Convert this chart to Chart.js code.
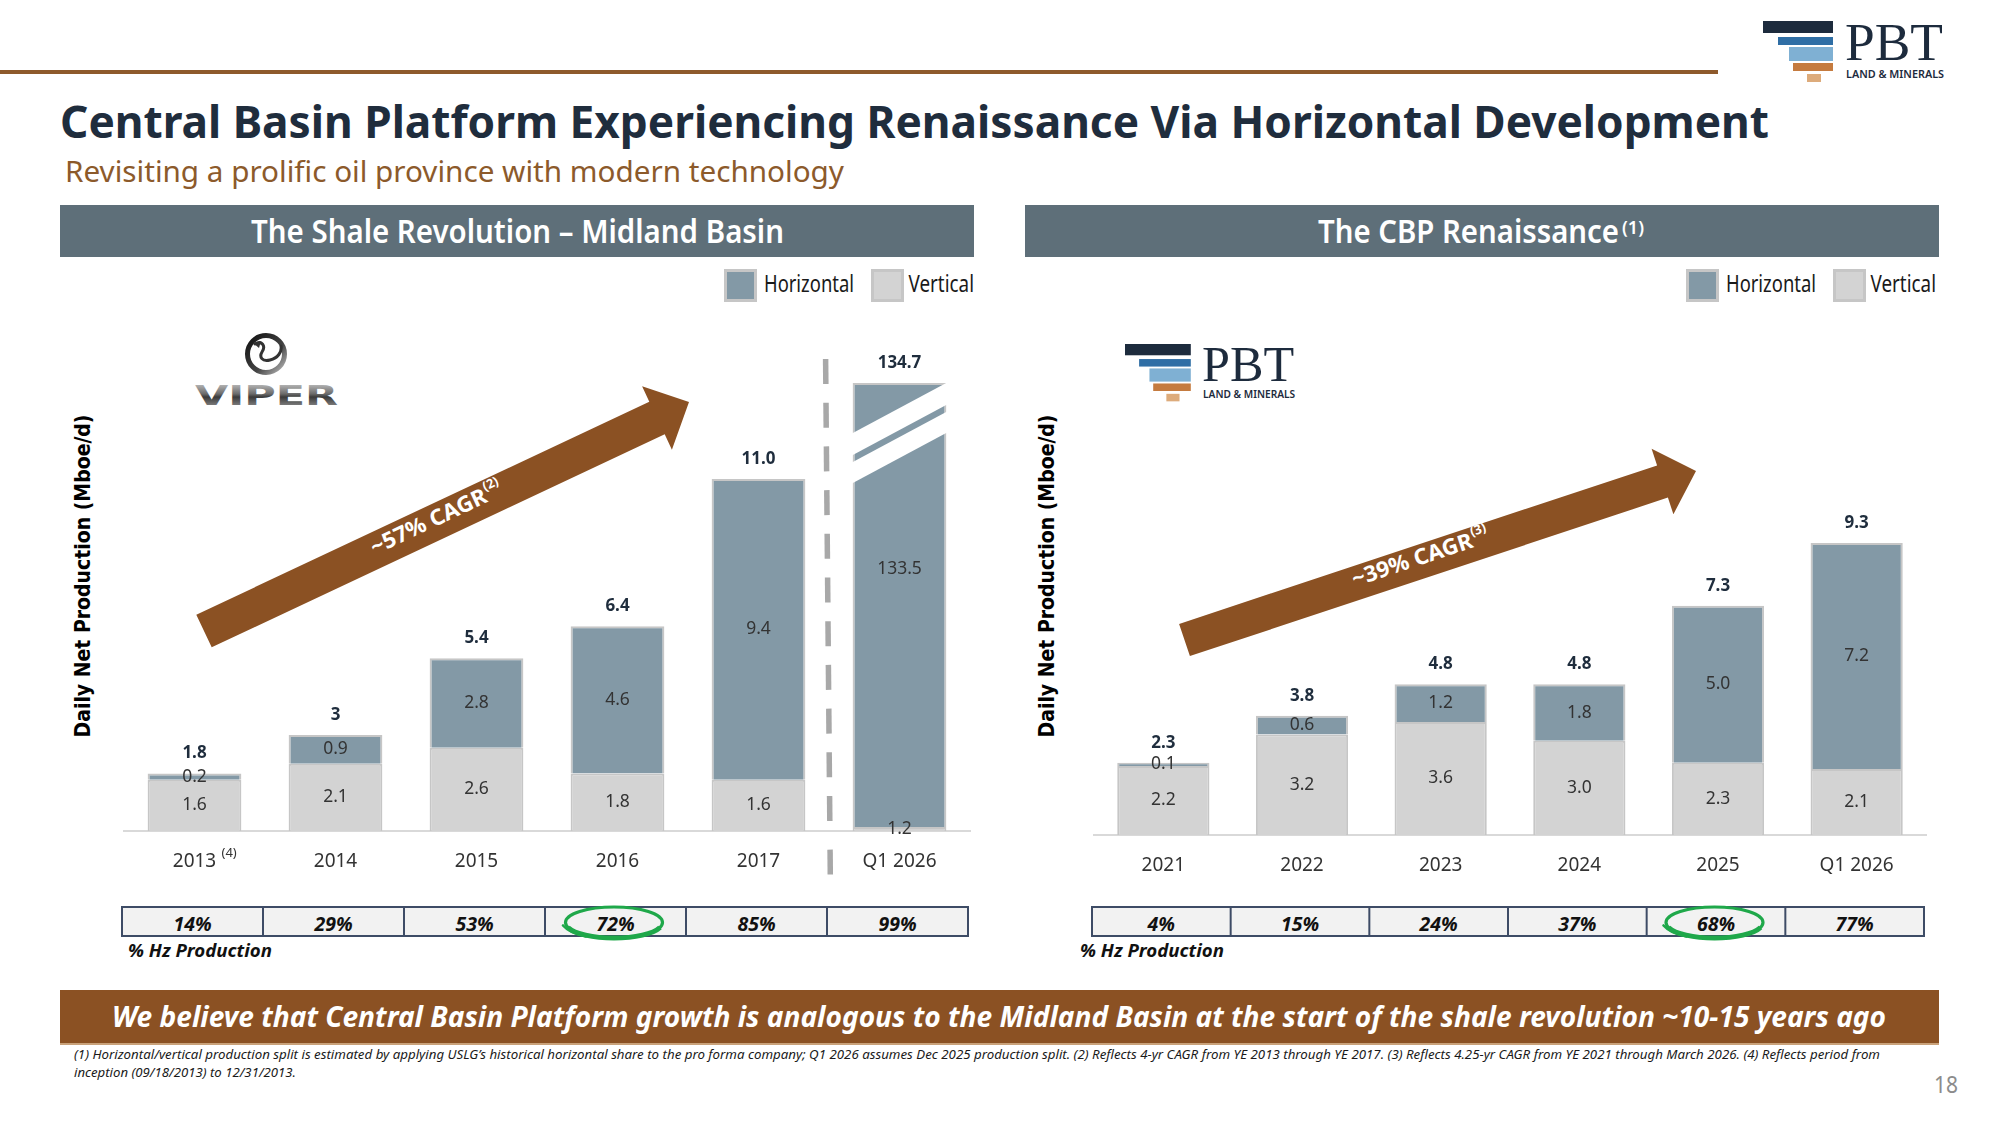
<!DOCTYPE html>
<html><head><meta charset="utf-8"><title>Central Basin Platform</title>
<script src="https://cdn.jsdelivr.net/npm/chart.js@4.4.1/dist/chart.umd.min.js"></script>
<style>
html,body{margin:0;padding:0;background:#fff;width:2000px;height:1125px;overflow:hidden}
#page{position:relative;width:2000px;height:1125px;background:#fff}
#deco{position:absolute;left:0;top:0}
.cw{position:absolute;width:920px;height:600px}
</style></head><body>
<div id="page">
<svg id="deco" width="2000" height="1125" viewBox="0 0 2000 1125" xmlns="http://www.w3.org/2000/svg">
<defs>
<linearGradient id="chrome" x1="0" y1="0" x2="0" y2="1">
<stop offset="0" stop-color="#d8d8d8"/><stop offset="0.45" stop-color="#6a6a6a"/><stop offset="0.55" stop-color="#3a3a3a"/><stop offset="1" stop-color="#a8a8a8"/>
</linearGradient>
<linearGradient id="ring" x1="0" y1="0" x2="1" y2="1">
<stop offset="0" stop-color="#111"/><stop offset="0.6" stop-color="#444"/><stop offset="1" stop-color="#bbb"/>
</linearGradient>
</defs>
</svg>
<div class="cw" style="left:60px;top:300px"><canvas id="chartMidland"></canvas></div>
<div class="cw" style="left:1025px;top:300px"><canvas id="chartCBP"></canvas></div>
</div>
<script>
// ---------------- data ----------------
const midlandYears = ['2013', '2014', '2015', '2016', '2017', 'Q1 2026'];
const midlandVertical = [1.6, 2.1, 2.6, 1.8, 1.6, 1.2];
const midlandHorizontal = [0.2, 0.9, 2.8, 4.6, 9.4, 133.5];
const midlandTotals = ['1.8', '3', '5.4', '6.4', '11.0', '134.7'];
const midlandHzShare = ['14%', '29%', '53%', '72%', '85%', '99%'];
const midlandHighlight = 3;
const midlandBreakIndex = 5;
const midlandBreakCap = 14.0;

const cbpYears = ['2021', '2022', '2023', '2024', '2025', 'Q1 2026'];
const cbpVertical = [2.2, 3.2, 3.6, 3.0, 2.3, 2.1];
const cbpHorizontal = [0.1, 0.6, 1.2, 1.8, 5.0, 7.2];
const cbpTotals = ['2.3', '3.8', '4.8', '4.8', '7.3', '9.3'];
const cbpHzShare = ['4%', '15%', '24%', '37%', '68%', '77%'];
const cbpHighlight = 4;

// ---------------- styles ----------------
const HZ = '#8399A6', VT = '#D3D3D3', BORDER = '#C6C6C6';
const BROWN = '#8B5123', NAVY = '#1F2D3D', SLATE = '#5E6F79', GREEN = '#1FA84A';

// ---------------- svg helpers ----------------
const NS = 'http://www.w3.org/2000/svg';
const svg = document.getElementById('deco');
function el(tag, attrs, parent, text) {
  const e = document.createElementNS(NS, tag);
  for (const k in attrs) e.setAttribute(k, attrs[k]);
  if (text != null) e.textContent = text;
  (parent || svg).appendChild(e);
  return e;
}
function txt(x, y, s, size, o) {
  o = o || {};
  const a = { x: x, y: y, 'font-family': o.family || 'Noto Sans', 'font-size': size,
    'font-weight': o.weight || 'normal', 'font-style': o.style || 'normal',
    fill: o.fill || '#000', 'text-anchor': o.anchor || 'start' };
  if (o.len) { a.textLength = o.len; a.lengthAdjust = 'spacingAndGlyphs'; }
  if (o.transform) a.transform = o.transform;
  return el('text', a, o.parent, s);
}
function pbtLogo(x, y, s) {
  const g = el('g', { transform: `translate(${x},${y}) scale(${s})` });
  [[0, 0, 70, 12, '#1D2B3D'], [15, 16, 55, 8, '#2F6EA5'], [26, 26, 44, 14, '#7FB0D3'],
   [30, 42, 40, 8, '#C57B3F'], [44, 53, 14, 8, '#DDAB7B']].forEach(b =>
    el('rect', { x: b[0], y: b[1], width: b[2], height: b[3], fill: b[4] }, g));
  txt(82, 39, 'PBT', 53, { family: 'Liberation Serif', fill: '#1D2B3D', len: 98, parent: g });
  txt(83, 57, 'LAND & MINERALS', 11.5, { fill: '#1D2B3D', len: 98, parent: g, weight: 600 });
}
function arrow(T, Bc, P, hw, hhw, label, sup, at, lift) {
  const dx = Bc[0] - T[0], dy = Bc[1] - T[1], L = Math.hypot(dx, dy);
  const n = [-dy / L, dx / L];
  const p = (q, k) => (q[0] + n[0] * k).toFixed(1) + ',' + (q[1] + n[1] * k).toFixed(1);
  el('polygon', { points: [p(T, -hw), p(Bc, -hw), p(Bc, -hhw), P.join(','), p(Bc, hhw), p(Bc, hw), p(T, hw)].join(' '), fill: BROWN });
  const ang = Math.atan2(dy, dx) * 180 / Math.PI;
  const cx = T[0] + dx * at, cy = T[1] + dy * at;
  const g = el('g', { transform: `translate(${cx.toFixed(1)},${cy.toFixed(1)}) rotate(${ang.toFixed(2)})` });
  txt(-8, 8 - lift, label, 22, { weight: 'bold', fill: '#fff', anchor: 'middle', len: 126, parent: g });
  txt(56, -3 - lift, sup, 13, { weight: 'bold', fill: '#fff', len: 16, parent: g });
}

// ---------------- static page elements ----------------
el('rect', { x: 0, y: 70, width: 1718, height: 4, fill: '#8E5A2C' });
pbtLogo(1763, 21, 1);
txt(60, 137.5, 'Central Basin Platform Experiencing Renaissance Via Horizontal Development', 44,
  { weight: 'bold', fill: NAVY, len: 1709 });
txt(65, 181.5, 'Revisiting a prolific oil province with modern technology', 29.5,
  { fill: '#8C5A2B', len: 779 });

el('rect', { x: 60, y: 205, width: 914, height: 52, fill: SLATE });
el('rect', { x: 1025, y: 205, width: 914, height: 52, fill: SLATE });
txt(517.5, 242.7, 'The Shale Revolution \u2013 Midland Basin', 32, { weight: 600, fill: '#fff', anchor: 'middle', len: 533 });
txt(1318, 242.7, 'The CBP Renaissance', 32, { weight: 600, fill: '#fff', len: 301 });
txt(1622, 234, '(1)', 17, { weight: 600, fill: '#fff', len: 22 });

function legend(dx) {
  el('rect', { x: 725.5 + dx, y: 270.5, width: 30, height: 30, fill: HZ, stroke: BORDER, 'stroke-width': 3 });
  txt(764 + dx, 292.3, 'Horizontal', 24, { fill: '#1a1a1a', len: 90 });
  el('rect', { x: 872.5 + dx, y: 270.5, width: 30, height: 30, fill: VT, stroke: BORDER, 'stroke-width': 3 });
  txt(908.5 + dx, 292.3, 'Vertical', 24, { fill: '#1a1a1a', len: 65.5 });
}
legend(0); legend(962);

txt(0, 0, 'Daily Net Production (Mboe/d)', 20.5, { family: 'DejaVu Sans', weight: 'bold', fill: '#000', anchor: 'middle', len: 323, transform: 'translate(90,576) rotate(-90)' });
txt(0, 0, 'Daily Net Production (Mboe/d)', 20.5, { family: 'DejaVu Sans', weight: 'bold', fill: '#000', anchor: 'middle', len: 323, transform: 'translate(1053.5,576) rotate(-90)' });

// VIPER logo
el('circle', { cx: 266, cy: 354, r: 18.5, fill: 'none', stroke: 'url(#ring)', 'stroke-width': 5 });
el('path', { d: 'M 255 344 C 262 340 266 346 262 352 C 259 357 262 362 270 360 C 278 358 282 352 281 346', fill: 'none', stroke: '#333', 'stroke-width': 3, 'stroke-linecap': 'round' });
el('path', { d: 'M 253 343 L 261 341 L 259 348 Z', fill: '#333' });
txt(195, 405, 'VIPER', 27, { family: 'DejaVu Sans', weight: 'bold', fill: 'url(#chrome)', len: 143 });

// PBT logo inside CBP chart
pbtLogo(1125, 344, 0.94);

// growth arrows
arrow([204, 631], [657, 418], [689, 402], 18, 35, '~57% CAGR', '(2)', 0.515, 4);
arrow([1184.5, 640], [1662.5, 481.5], [1696, 471], 17, 34.6, '~39% CAGR', '(3)', 0.495, 5);

// banner, footnotes, page number
el('rect', { x: 60, y: 990, width: 1879, height: 53, fill: BROWN });
el('rect', { x: 60, y: 1043, width: 1879, height: 2, fill: '#C9A27A' });
txt(999, 1027, 'We believe that Central Basin Platform growth is analogous to the Midland Basin at the start of the shale revolution ~10-15 years ago', 29,
  { weight: 'bold', style: 'italic', fill: '#fff', anchor: 'middle', len: 1774 });
txt(74, 1059, '(1) Horizontal/vertical production split is estimated by applying USLG\u2019s historical horizontal share to the pro forma company; Q1 2026 assumes Dec 2025 production split. (2) Reflects 4-yr CAGR from YE 2013 through YE 2017. (3)  Reflects 4.25-yr CAGR from YE 2021 through March 2026. (4)  Reflects period from', 13,
  { style: 'italic', fill: '#1a1a1a', len: 1806 });
txt(74, 1076.5, 'inception (09/18/2013) to 12/31/2013.', 13, { style: 'italic', fill: '#1a1a1a', len: 222 });
txt(1934, 1093, '18', 23, { fill: '#8C8C8C', len: 24 });

// ---------------- chart plugin ----------------
const barDeco = {
  id: 'barDeco',
  afterDatasetsDraw(chart, args, o) {
    const ctx = chart.ctx;
    const hz = chart.getDatasetMeta(1).data;
    ctx.save();
    if (o.breakIndex != null) {
      const b = hz[o.breakIndex];
      const xl = b.x - b.width / 2, w = b.width, top = b.y;
      const yAt = (off, x) => top + off - (x - xl) * 50 / w;
      ctx.fillStyle = '#fff';
      [[50, 72], [79, 100]].forEach(([a, c]) => {
        const L = xl - 4, R = xl + w + 4;
        ctx.beginPath();
        ctx.moveTo(L, yAt(a, L)); ctx.lineTo(R, yAt(a, R));
        ctx.lineTo(R, yAt(c, R)); ctx.lineTo(L, yAt(c, L));
        ctx.closePath(); ctx.fill();
      });
    }
    ctx.textAlign = 'center'; ctx.textBaseline = 'middle';
    ctx.font = '17.5px "Noto Sans"'; ctx.fillStyle = '#333';
    chart.data.datasets.forEach((ds, di) => {
      chart.getDatasetMeta(di).data.forEach((bar, i) => {
        let y = (bar.y + bar.base) / 2;
        if (di === 1 && i === o.breakIndex) y = bar.y + (bar.base - bar.y) * 0.42;
        ctx.fillText(ds.labelValues[i].toFixed(1), bar.x, y);
      });
    });
    ctx.font = 'bold 17px "Noto Sans"'; ctx.fillStyle = NAVY;
    hz.forEach((bar, i) => ctx.fillText(o.totals[i], bar.x, bar.y - 20));
    ctx.restore();
  },
  afterDraw(chart, args, o) {
    const ctx = chart.ctx, xs = chart.scales.x;
    ctx.save();
    if (o.sup) {
      ctx.font = '13px "Noto Sans"'; ctx.fillStyle = '#333';
      ctx.textAlign = 'left'; ctx.textBaseline = 'middle';
      ctx.fillText(o.sup, xs.getPixelForValue(0) + 27, chart.chartArea.bottom + 22);
    }
    if (o.dashed) {
      const mx = (xs.getPixelForValue(4) + xs.getPixelForValue(5)) / 2;
      const xAt = y => mx - 3.4 + (y - 59) * 4.7 / 516;
      ctx.strokeStyle = '#A8A8A8'; ctx.lineWidth = 5.5;
      const dashes = [];
      for (let k = 0; k < 11; k++) dashes.push([59 + 43.7 * k, 59 + 43.7 * k + 25]);
      dashes.push([549.6, 574.4]);
      dashes.forEach(([a, c]) => {
        ctx.beginPath(); ctx.moveTo(xAt(a), a); ctx.lineTo(xAt(c), c); ctx.stroke();
      });
    }
    ctx.restore();
  }
};

function makeChart(id, labels, vert, horiz, totals, lay, extra) {
  const vDisp = vert.slice(), hDisp = horiz.slice();
  if (extra.breakIndex != null) {
    const i = extra.breakIndex, k = extra.breakCap / (vert[i] + horiz[i]);
    vDisp[i] = vert[i] * k; hDisp[i] = horiz[i] * k;
  }
  const common = { borderColor: BORDER, borderWidth: 2, barPercentage: 0.665, categoryPercentage: 1 };
  return new Chart(document.getElementById(id), {
    type: 'bar',
    data: {
      labels: labels,
      datasets: [
        Object.assign({ label: 'Vertical', data: vDisp, labelValues: vert, backgroundColor: VT }, common),
        Object.assign({ label: 'Horizontal', data: hDisp, labelValues: horiz, backgroundColor: HZ }, common)
      ]
    },
    options: {
      responsive: true, maintainAspectRatio: false, animation: false,
      layout: { padding: { left: lay.padL, right: lay.padR, top: lay.padT, bottom: 0 } },
      plugins: {
        legend: { display: false }, tooltip: { enabled: false },
        barDeco: { totals: totals, breakIndex: extra.breakIndex, sup: extra.sup, dashed: extra.dashed }
      },
      scales: {
        x: {
          stacked: true,
          grid: { display: false, drawTicks: false },
          border: { display: true, color: '#D9D9D9', width: 2 },
          ticks: { padding: 19, color: '#333', font: { family: 'Noto Sans', size: 19 }, maxRotation: 0 },
          afterFit(s) { s.height = lay.axisH; }
        },
        y: { stacked: true, display: false, min: 0, max: lay.yMax }
      }
    },
    plugins: [barDeco]
  });
}

const chartM = makeChart('chartMidland', midlandYears, midlandVertical, midlandHorizontal, midlandTotals,
  { padL: 64, padR: 10, padT: 19, axisH: 69, yMax: 16 },
  { breakIndex: midlandBreakIndex, breakCap: midlandBreakCap, sup: '(4)', dashed: true });
const chartC = makeChart('chartCBP', cbpYears, cbpVertical, cbpHorizontal, cbpTotals,
  { padL: 69, padR: 19, padT: 32.6, axisH: 65, yMax: 16 },
  {});

// ---------------- % Hz production tables ----------------
function hzTable(chart, offX, values, highlight, labelX) {
  const ca = chart.chartArea, n = values.length;
  const left = offX + ca.left - 2, w = (ca.right - ca.left) / n;
  const top = 907, h = 29;
  el('rect', { x: left, y: top, width: w * n, height: h, fill: '#F2F2F2', stroke: '#3E4C66', 'stroke-width': 2 });
  for (let i = 1; i < n; i++) el('line', { x1: left + w * i, y1: top, x2: left + w * i, y2: top + h, stroke: '#3E4C66', 'stroke-width': 2 });
  values.forEach((v, i) => txt(left + w * (i + 0.5), 930.5, v, 19.5, { weight: 'bold', style: 'italic', fill: '#111', anchor: 'middle' }));
  txt(labelX, 956.5, '% Hz Production', 18, { weight: 'bold', style: 'italic', fill: '#111', len: 144 });
  const cx = left + w * (highlight + 0.5) - 1.5, cy = 922.5;
  el('ellipse', { cx: cx, cy: cy, rx: 48.5, ry: 15.5, fill: 'none', stroke: GREEN, 'stroke-width': 3.2 });
  el('path', { d: `M ${cx - 46} ${cy + 5} A 48.5 15.5 0 0 0 ${cx + 46} ${cy + 5}`, fill: 'none', stroke: GREEN, 'stroke-width': 5 });
  el('path', { d: `M ${cx - 51} ${cy + 3} Q ${cx - 44} ${cy + 11} ${cx - 28} ${cy + 14}`, fill: 'none', stroke: GREEN, 'stroke-width': 2.6, 'stroke-linecap': 'round' });
}
hzTable(chartM, 60, midlandHzShare, midlandHighlight, 128);
hzTable(chartC, 1025, cbpHzShare, cbpHighlight, 1080);
</script>
</body></html>
